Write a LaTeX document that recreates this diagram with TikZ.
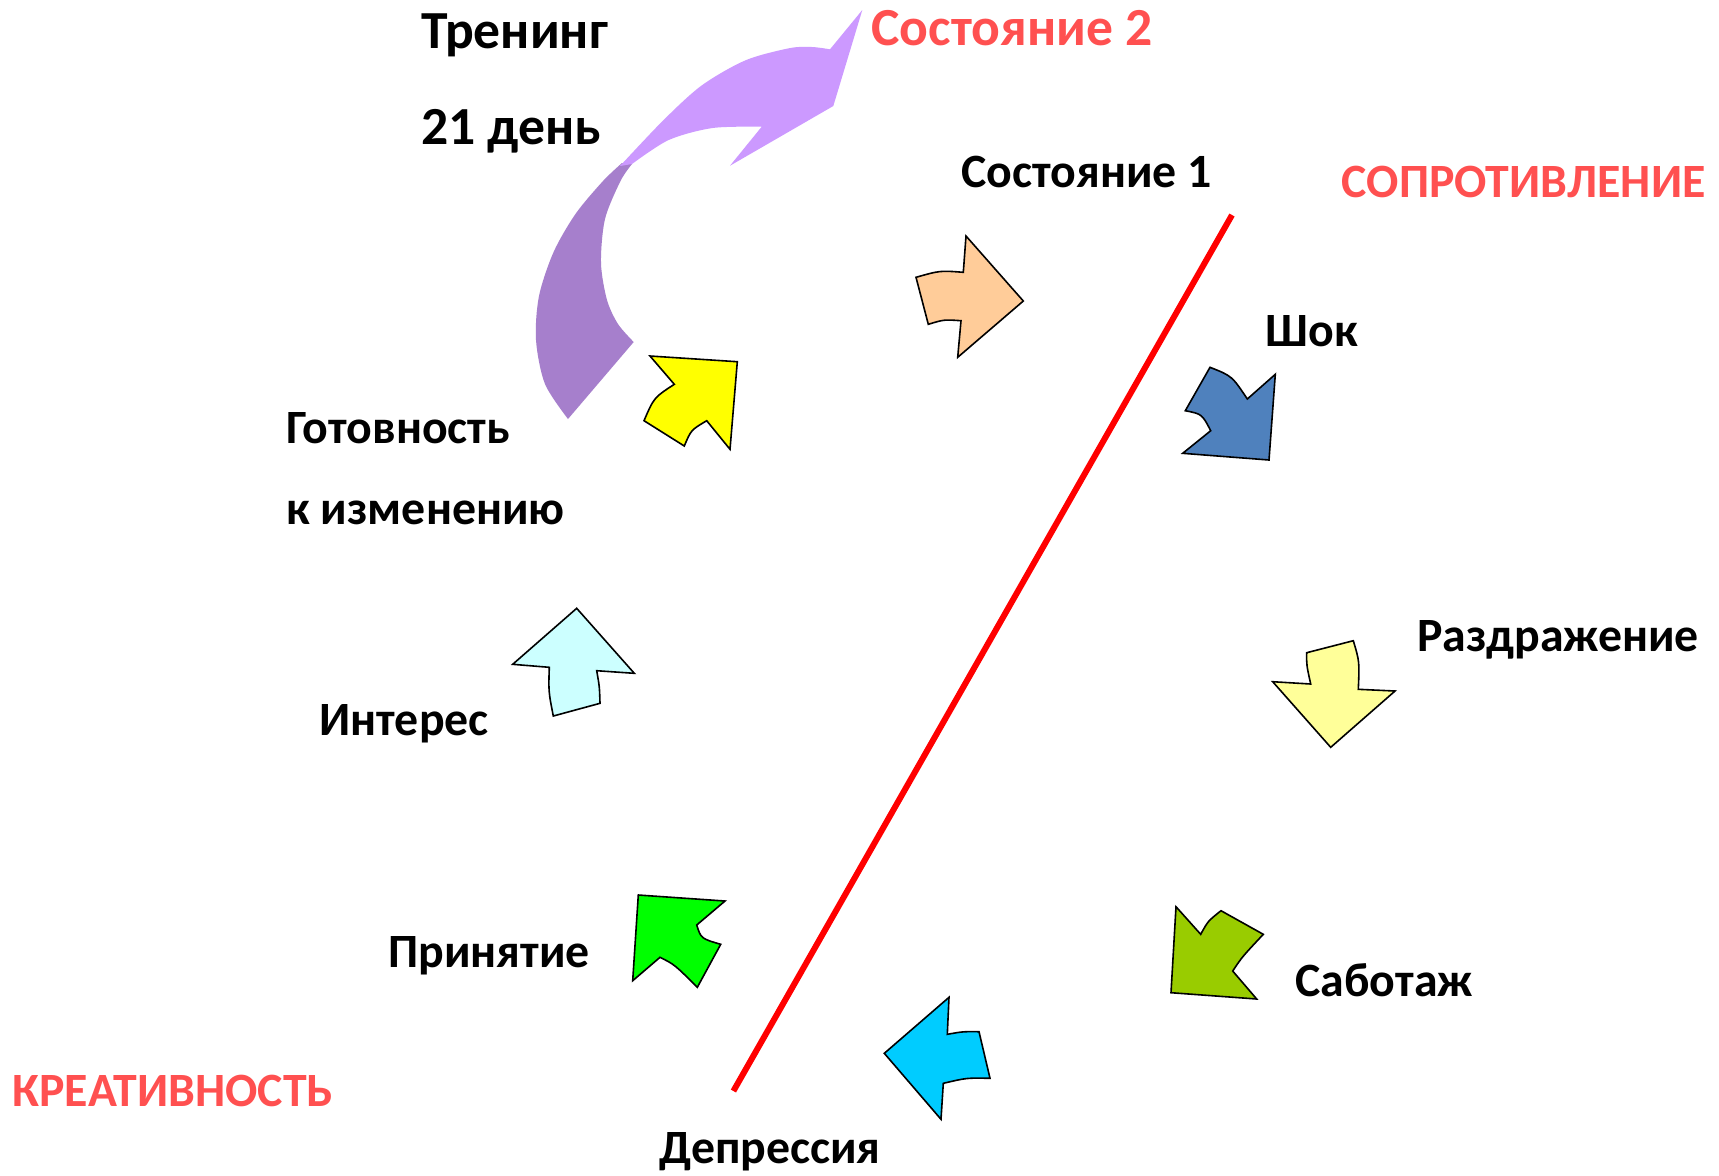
\documentclass[tikz,border=0pt]{standalone}
\usepackage{fontspec}
\setmainfont{Carlito}
\begin{document}
\begin{tikzpicture}[x=0.5pt,y=-0.5pt,
  lbl/.style={anchor=base west,inner sep=0pt,font=\bfseries\fontsize{23.9}{28}\selectfont},
  biglbl/.style={lbl,font=\bfseries\fontsize{26.8}{30}\selectfont},
  redlbl/.style={lbl,text=redtxt},
  blockarrow/.style={draw=black,line width=0.8pt,line join=miter}]
\definecolor{redtxt}{HTML}{FF5050}
\definecolor{purpL}{HTML}{CC99FF}
\definecolor{purpD}{HTML}{A67FCC}
\definecolor{peach}{HTML}{FFCC99}
\definecolor{steel}{HTML}{4F81BD}
\definecolor{paleyel}{HTML}{FFFF99}
\definecolor{olive}{HTML}{99CC00}
\definecolor{skyc}{HTML}{00CCFF}
\definecolor{lime}{HTML}{00FF00}
\definecolor{icec}{HTML}{CCFFFF}
\definecolor{yel}{HTML}{FFFF00}
\useasboundingbox[fill=white] (0,0) rectangle (1719,1175);

% curved transition arrow (lower dark part, upper light part)
\fill[purpD] plot[smooth] coordinates {(568,419) (545,384) (536,340) (539,296) (553.6,252) (575.6,213.8) (603,181) (622,163)}
  -- plot[smooth] coordinates {(632,164) (620.5,181) (605,219) (601,263) (607,300) (618,324) (633.7,342)} -- cycle;
\fill[purpL] plot[smooth] coordinates {(620,166) (663,120.6) (701.6,85.5) (745.5,60.3) (789.3,48.2) (812,47) (830,49.3)}
  -- (862.3,10) -- (833.3,106) -- (730,165.7) -- (761.7,126.7)
  -- plot[smooth] coordinates {(761.7,126.7) (712.6,128) (668.7,140) (632,164)} -- cycle;

% dividing line
\coordinate (ltop) at (1232,215);
\coordinate (lbot) at (733.4,1091);
\draw[red,line width=3pt] (ltop) -- (lbot);

% block arrows around the cycle
\draw[blockarrow,fill=peach] (916,277.3) -- (928.3,324.3) .. controls (944,319.5) .. (961,320.7) -- (957.7,357.3)
  -- (1023.3,301) -- (966,236) -- (963.3,272.3) .. controls (940,270.5) .. (916,277.3) -- cycle;
\draw[blockarrow,fill=steel] (1210,367.3) .. controls (1232,376) .. (1247.3,399) -- (1275.3,374.3) -- (1269,460)
  -- (1182.7,453.3) -- (1210.7,430.7) .. controls (1202,414) .. (1185.3,410.7) -- cycle;
\draw[blockarrow,fill=paleyel] (1306.7,652.7) -- (1353.3,640.7) .. controls (1359.5,661.5) .. (1358.3,689.3)
  -- (1395,691) -- (1330.7,747.3) -- (1272.7,681.7) -- (1310.7,684) .. controls (1306.5,665) .. (1306.7,652.7) -- cycle;
\draw[blockarrow,fill=olive] (1176,906.7) -- (1200.7,934.3) .. controls (1208,921) .. (1221,910.7) -- (1263.3,934.3)
  .. controls (1242,957) .. (1232.7,971) -- (1256.7,999) -- (1171,992.7) -- cycle;
\draw[blockarrow,fill=skyc] (949,997.3) -- (947.3,1034.3) .. controls (963,1031.5) .. (979,1031.7) -- (990,1078.3)
  .. controls (966.7,1077.8) .. (943.3,1083.3) -- (941,1119.3) -- (884.3,1053.3) -- cycle;
\draw[blockarrow,fill=lime] (638.3,895) -- (725,901) -- (696.7,925) .. controls (701,938.5) .. (720.7,944.3)
  -- (697.3,987.3) .. controls (674.5,964.5) .. (660,957.3) -- (632.7,980.7) -- cycle;
\draw[blockarrow,fill=icec] (576.7,608.3) -- (634.3,673.3) -- (596.7,670.7) .. controls (599.5,686.5) .. (600,703.3)
  -- (553.3,716) .. controls (548.5,691.5) .. (549.3,667.3) -- (512.7,664.3) -- cycle;
\draw[blockarrow,fill=yel] (650,356) -- (737.3,361.7) -- (730,449.3) -- (706.7,420.7) .. controls (691,430) .. (684.3,446)
  -- (644,420.7) .. controls (654,397.5) .. (674.3,384.3) -- cycle;

% labels
\node[biglbl] (training) at (421,48) {Тренинг};
\node[biglbl] (days) at (421,144) {21 день};
\node[biglbl,text=redtxt] (state2) at (871,45) {Состояние 2};
\node[lbl] (state1) at (961,187) {Состояние 1};
\node[redlbl] (resist) at (1341,197) {СОПРОТИВЛЕНИЕ};
\node[lbl] (shock) at (1265,346) {Шок};
\node[lbl] (irrit) at (1417,651) {Раздражение};
\node[lbl] (sabot) at (1295,996) {Саботаж};
\node[lbl] (depr) at (659,1163) {Депрессия};
\node[redlbl] (creat) at (12,1106) {КРЕАТИВНОСТЬ};
\node[lbl] (accept) at (388,967) {Принятие};
\node[lbl] (interest) at (319,735) {Интерес};
\node[lbl] (ready) at (286,443) {Готовность};
\node[lbl] (change) at (286,524) {к изменению};
\end{tikzpicture}
\end{document}
